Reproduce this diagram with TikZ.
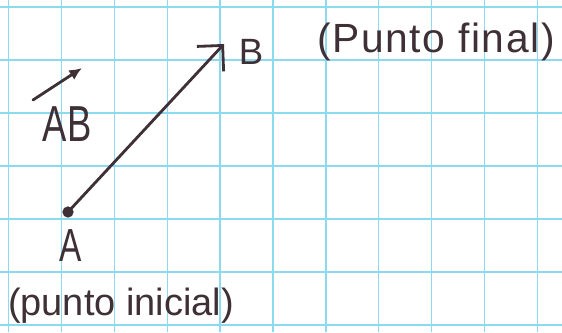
\documentclass[tikz,border=0pt]{standalone}
\usepackage{fontspec}
\setmainfont{Liberation Sans}
\newfontfamily\narrowhand[FakeStretch=0.72]{Liberation Sans}
\newfontfamily\widehand[LetterSpace=4]{Liberation Sans}
\usepackage{xcolor}
\usetikzlibrary{arrows.meta, positioning}
\definecolor{paper-grid}{RGB}{140,218,240}
\definecolor{pen-ink}{RGB}{62,48,54}

\tikzset{
  gridline/.style={draw=paper-grid, line width=0.9pt},
  inkline/.style={draw=pen-ink, line width=2pt, line cap=round},
  handtext/.style={text=pen-ink, inner sep=0pt},
}

\begin{document}
\begin{tikzpicture}[x=0.025cm, y=-0.025cm]
  \useasboundingbox (0,0) rectangle (562,332);
  \fill[white] (0,0) rectangle (562,332);

  % squared paper
  \foreach \k in {0,...,10}
    \draw[gridline] (8.5+52.9*\k,0) -- (8.5+52.9*\k,332);
  \foreach \k in {0,...,6}
    \draw[gridline] (0,7+53*\k) -- (562,7+53*\k);

  % start and end of the vector
  \node[circle, fill=pen-ink, inner sep=0pt, minimum size=8pt] (adot) at (68,212) {};
  \coordinate (btip) at (224,44);
  \draw[inkline, -{Straight Barb[length=13pt, width=26pt, line width=2pt]}] (adot.center) -- (btip);

  % labels of the points
  \node[handtext, font=\narrowhand\fontsize{33}{36}\selectfont] (labA) at (71,246) {A};
  \node[handtext, font=\fontsize{26}{28}\selectfont] (labB) at (251,52) {B};
  \node[handtext, font=\widehand\fontsize{29}{32}\selectfont] (finaltext) at (436,42) {(Punto final)};
  \node[handtext, font=\fontsize{27}{30}\selectfont] (initext) at (121,306) {(punto inicial)};

  % name of the vector
  \coordinate (abtail) at (33,100);
  \coordinate (abhead) at (82,68);
  \draw[inkline, -{Latex[length=9pt, width=8pt]}] (abtail) -- (abhead);
  \node[handtext, font=\narrowhand\fontsize{36}{38}\selectfont] (abname) at (67,124) {AB};
\end{tikzpicture}
\end{document}
